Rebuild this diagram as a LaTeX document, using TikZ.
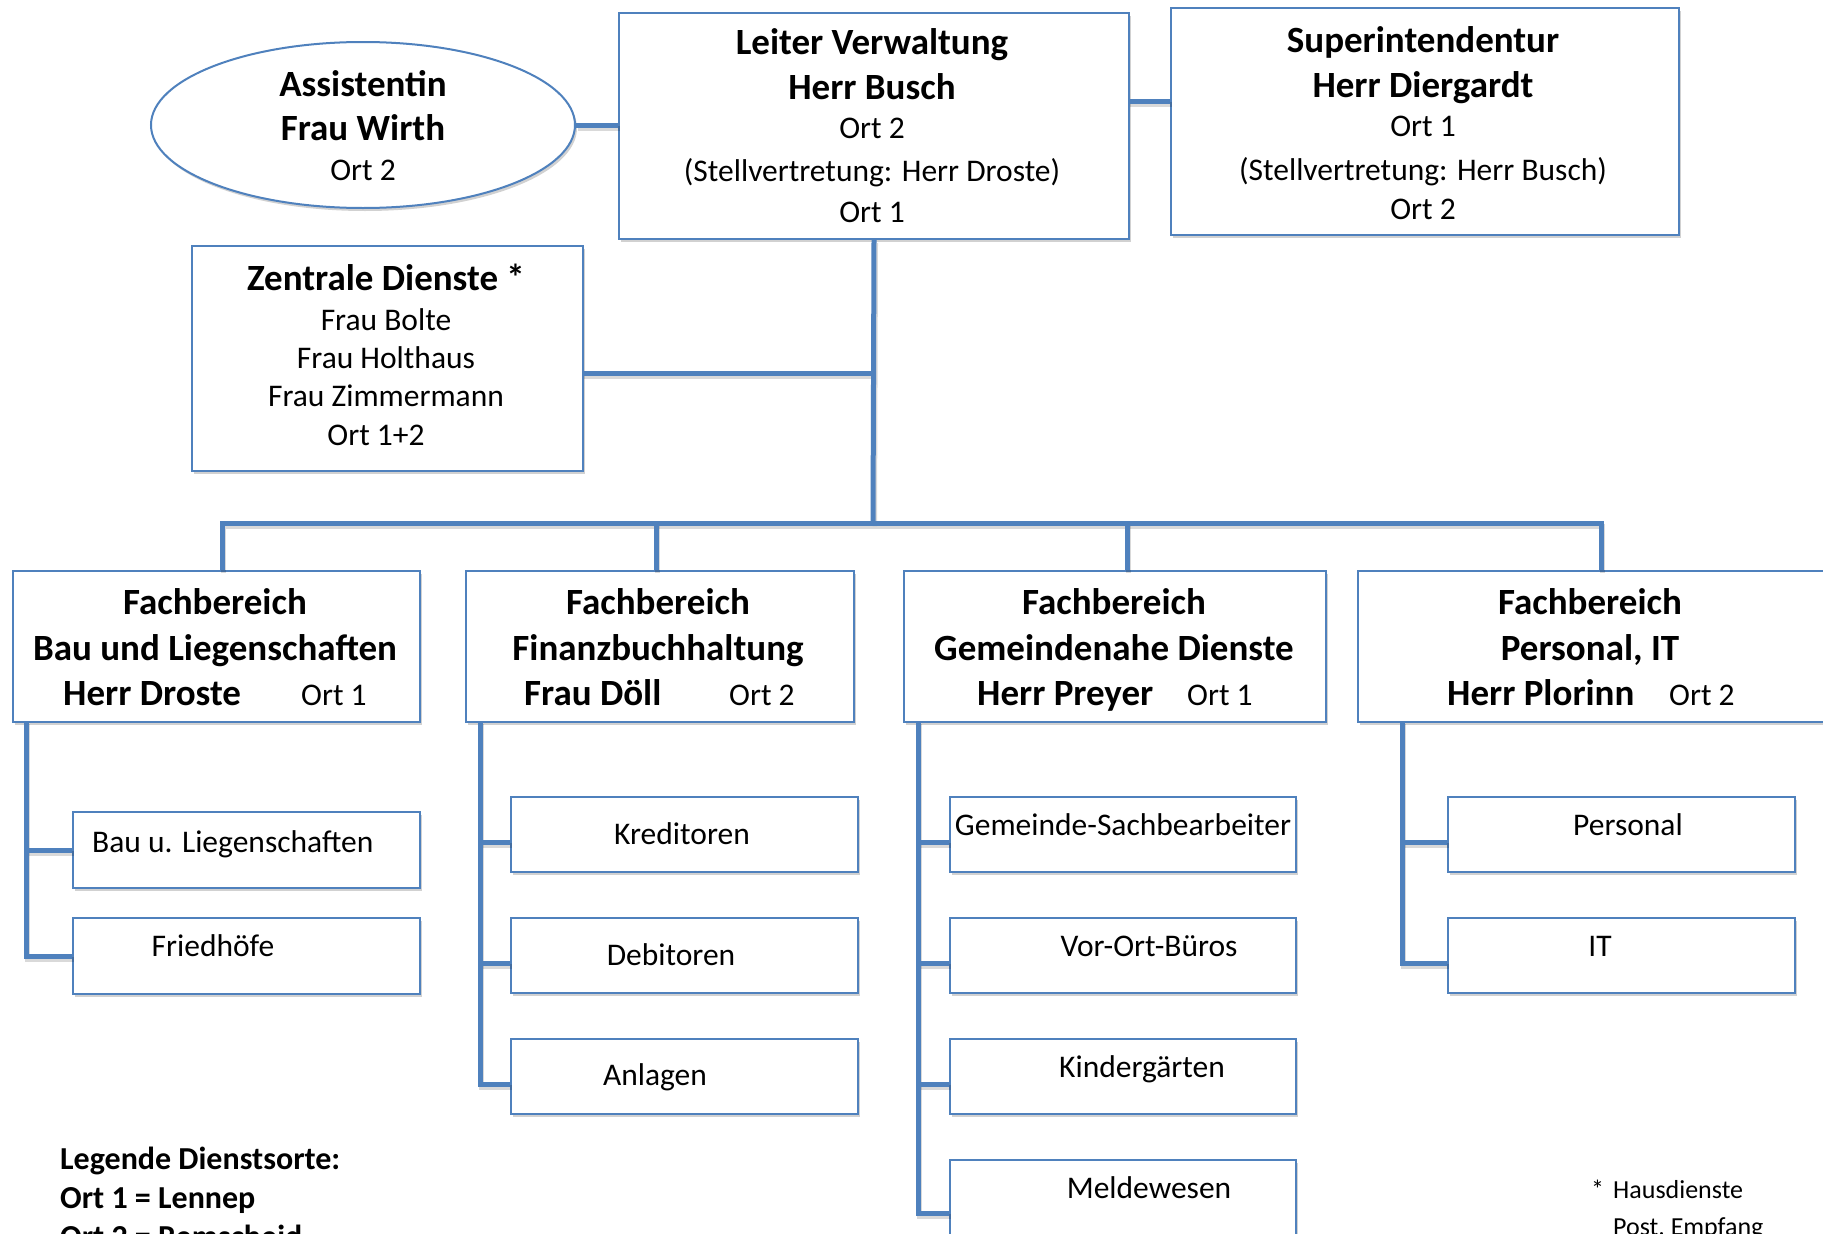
\documentclass[tikz,border=0pt]{standalone}
\usepackage{fontspec}
\setmainfont{Carlito}
\usetikzlibrary{shadows,shapes.geometric}
\definecolor{accent}{HTML}{4F81BD}
\newcommand\orgconnectors[1]{%
  \draw[#1] (as.east) -- (as.east -| leiter.west);
  \draw[#1] (ls) -- (ls -| super.west);
  \draw[#1] (leiter.south) -- (bus);
  \draw[#1] (zc) -- (zc -| leiter.south);
  \draw[#1] (t1) |- (bus) -| (t4);
  \draw[#1] (t2) -- (t2 |- bus);
  \draw[#1] (t3) -- (t3 |- bus);
  % column 1
  \draw[#1] (v1) |- (b12.west);
  \draw[#1] (v1 |- b11.west) -- (b11.west);
  % column 2
  \draw[#1] (v2) |- (k23);
  \draw[#1] (k21 -| v2) -- (k21);
  \draw[#1] (k22 -| v2) -- (k22);
  % column 3
  \draw[#1] (v3) |- (k34);
  \draw[#1] (k31 -| v3) -- (k31);
  \draw[#1] (k32 -| v3) -- (k32);
  \draw[#1] (k33 -| v3) -- (k33);
  % column 4
  \draw[#1] (v4) |- (k42);
  \draw[#1] (k41 -| v4) -- (k41);
}
\begin{document}
\begin{tikzpicture}[x=1pt,y=-1pt,
  box/.style={draw=accent, line width=2pt, fill=white, rectangle, anchor=north west, inner sep=0pt,
    drop shadow={shadow xshift=2pt, shadow yshift=-3pt, fill=black, opacity=0.18}},
  conn/.style={draw=accent, line width=5pt, line join=miter, line cap=butt},
  connshadow/.style={draw=black, opacity=0.15, line width=5pt, line join=miter},
  bt/.style={font=\fontsize{37}{44}\selectfont\bfseries, anchor=base, inner sep=0pt},
  rt/.style={font=\fontsize{31.5}{38}\selectfont, anchor=base, inner sep=0pt},
  lg/.style={font=\fontsize{32}{38}\selectfont\bfseries, anchor=base west, inner sep=0pt},
  fn/.style={font=\fontsize{26}{32}\selectfont, anchor=base west, inner sep=0pt},
  ]
\useasboundingbox[fill=white] (0,0) rectangle (1823,1234);

% ---- boxes ----
\node[box, ellipse, anchor=center, minimum width=424pt, minimum height=166pt] (as) at (363,125) {};
\node[box, minimum width=510pt, minimum height=226pt] (leiter) at (618,12) {};
\node[box, minimum width=508pt, minimum height=227pt] (super) at (1170,7) {};
\node[box, minimum width=391pt, minimum height=225pt] (zd) at (191,245) {};

\node[box, minimum width=407pt, minimum height=151pt] (fb1) at (12,570) {};
\node[box, minimum width=388pt, minimum height=151pt] (fb2) at (465,570) {};
\node[box, minimum width=422pt, minimum height=151pt] (fb3) at (903,570) {};
\node[box, minimum width=490pt, minimum height=151pt] (fb4) at (1357,570) {};

\node[box, minimum width=347pt, minimum height=76pt] (b11) at (72,811) {};
\node[box, minimum width=347pt, minimum height=76pt] (b12) at (72,917) {};

\node[box, minimum width=347pt, minimum height=75pt] (b21) at (510,796) {};
\node[box, minimum width=347pt, minimum height=75pt] (b22) at (510,917) {};
\node[box, minimum width=347pt, minimum height=75pt] (b23) at (510,1038) {};

\node[box, minimum width=346pt, minimum height=75pt] (b31) at (949,796) {};
\node[box, minimum width=346pt, minimum height=75pt] (b32) at (949,917) {};
\node[box, minimum width=346pt, minimum height=75pt] (b33) at (949,1038) {};
\node[box, minimum width=346pt, minimum height=90pt] (b34) at (949,1159) {};

\node[box, minimum width=347pt, minimum height=75pt] (b41) at (1447,796) {};
\node[box, minimum width=347pt, minimum height=75pt] (b42) at (1447,917) {};

% ---- connector coordinates ----
\coordinate (ls) at (1128,101);
\coordinate (bus) at (873,523);
\coordinate (zc) at (582,373);
\coordinate (t1) at (222,570);
\coordinate (t2) at (656,570);
\coordinate (t3) at (1127,570);
\coordinate (t4) at (1601,570);
\coordinate (v1) at (26,721);
\coordinate (v2) at (480,721);
\coordinate (v3) at (918,721);
\coordinate (v4) at (1402,721);
\coordinate (k21) at ([yshift=-8pt]b21.west);
\coordinate (k22) at ([yshift=-8pt]b22.west);
\coordinate (k23) at ([yshift=-8pt]b23.west);
\coordinate (k31) at ([yshift=-8pt]b31.west);
\coordinate (k32) at ([yshift=-8pt]b32.west);
\coordinate (k33) at ([yshift=-8pt]b33.west);
\coordinate (k34) at ([yshift=-8pt]b34.west);
\coordinate (k41) at ([yshift=-8pt]b41.west);
\coordinate (k42) at ([yshift=-8pt]b42.west);

% ---- connectors ----
\begin{scope}[transform canvas={xshift=1.5pt,yshift=-3pt}]
  \orgconnectors{connshadow}
\end{scope}
\orgconnectors{conn}

% ---- texts ----
\node[bt] (asA) at (363,96) {Assistentin};
\node[bt] (asB) at (363,140) {Frau Wirth};
\node[rt] (asC) at (363,180) {Ort 2};

\node[bt] (leA) at (872,54) {Leiter Verwaltung};
\node[bt] (leB) at (872,99) {Herr Busch};
\node[rt] (leC) at (872,138) {Ort 2};
\node[rt] (leD) at (872,181) {(Stellvertretung: Herr Droste)};
\node[rt] (leE) at (872,222) {Ort 1};

\node[bt] (suA) at (1423,52) {Superintendentur};
\node[bt] (suB) at (1423,97) {Herr Diergardt};
\node[rt] (suC) at (1423,136) {Ort 1};
\node[rt] (suD) at (1423,180) {(Stellvertretung: Herr Busch)};
\node[rt] (suE) at (1423,219) {Ort 2};

\node[bt] (zdA) at (386,290) {Zentrale Dienste *};
\node[rt] (zdB) at (386,330) {Frau Bolte};
\node[rt] (zdC) at (386,368) {Frau Holthaus};
\node[rt] (zdD) at (386,406) {Frau Zimmermann};
\node[rt] (zdE) at (376,445) {Ort 1+2};

\node[bt] (f1A) at (215,614) {Fachbereich};
\node[bt] (f1B) at (215,660) {Bau und Liegenschaften};
\node[bt, anchor=base west] (f1C) at (63,705) {Herr Droste};
\node[rt, anchor=base west] (f1D) at (301,705) {Ort 1};

\node[bt] (f2A) at (658,614) {Fachbereich};
\node[bt] (f2B) at (658,660) {Finanzbuchhaltung};
\node[bt, anchor=base west] (f2C) at (524,705) {Frau Döll};
\node[rt, anchor=base west] (f2D) at (729,705) {Ort 2};

\node[bt] (f3A) at (1114,614) {Fachbereich};
\node[bt] (f3B) at (1114,660) {Gemeindenahe Dienste};
\node[bt, anchor=base west] (f3C) at (977,705) {Herr Preyer};
\node[rt, anchor=base west] (f3D) at (1187,705) {Ort 1};

\node[bt] (f4A) at (1590,614) {Fachbereich};
\node[bt] (f4B) at (1590,660) {Personal, IT};
\node[bt, anchor=base west] (f4C) at (1447,705) {Herr Plorinn};
\node[rt, anchor=base west] (f4D) at (1669,705) {Ort 2};

\node[rt, anchor=base west] (t11) at (92,852) {Bau u. Liegenschaften};
\node[rt] (t12) at (213,956) {Friedhöfe};
\node[rt] (t21) at (682,844) {Kreditoren};
\node[rt] (t22) at (671,965) {Debitoren};
\node[rt] (t23) at (655,1085) {Anlagen};
\node[rt] (t31) at (1123,835) {Gemeinde-Sachbearbeiter};
\node[rt] (t32) at (1149,956) {Vor-Ort-Büros};
\node[rt] (t33) at (1142,1077) {Kindergärten};
\node[rt] (t34) at (1149,1198) {Meldewesen};
\node[rt] (t41) at (1628,835) {Personal};
\node[rt] (t42) at (1600,956) {IT};

\node[lg] (lgA) at (60,1169) {Legende Dienstsorte:};
\node[lg] (lgB) at (60,1208) {Ort 1 = Lennep};
\node[lg] (lgC) at (60,1247) {Ort 2 = Remscheid};

\node[fn] (fnS) at (1591,1198) {*};
\node[fn] (fnA) at (1613,1198) {Hausdienste};
\node[fn] (fnB) at (1613,1235) {Post, Empfang};
\end{tikzpicture}
\end{document}
